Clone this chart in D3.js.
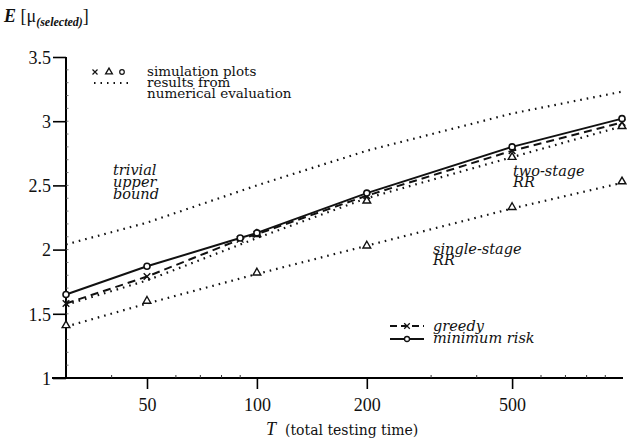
<!DOCTYPE html>
<html><head><meta charset="utf-8">
<script src="https://cdn.jsdelivr.net/npm/d3@7"></script>
<style>
body{margin:0;background:#fff;}
text{font-family:"DejaVu Serif","Liberation Serif",serif;fill:#111;}
.num{font-family:"Liberation Serif","DejaVu Serif",serif;}
</style></head>
<body><svg id="c" width="627" height="440"></svg>
<script>
// ---- data ----
const numT = [30, 50, 100, 200, 500, 1000];
const upperBound = [2.04, 2.21, 2.5, 2.77, 3.06, 3.23];
const twoStageNum = [1.57, 1.76, 2.09, 2.40, 2.72, 2.96];
const singleStageNum = [1.40, 1.58, 1.81, 2.03, 2.32, 2.52];

const singleSimT = [30, 50, 100, 200, 500, 1000];
const singleSim = [1.41, 1.60, 1.82, 2.03, 2.33, 2.53];
const twoSimT = [100, 200, 500, 1000];
const twoSim = [2.12, 2.38, 2.72, 2.96];

const greedyT = [30, 50, 90, 100, 200, 500, 1000];
const greedy = [1.58, 1.79, 2.08, 2.12, 2.42, 2.77, 2.99];
const minRiskT = [30, 50, 90, 100, 200, 500, 1000];
const minRisk = [1.65, 1.87, 2.09, 2.13, 2.44, 2.80, 3.02];

const xTicks = [50, 100, 200, 500];
const xMinor = [40, 60, 70, 80, 90, 300, 400, 600, 700, 800, 900];
const yTicks = [1, 1.5, 2, 2.5, 3, 3.5];

// ---- layout ----
const svg = d3.select("#c");
const x = d3.scaleLog().domain([30, 1000]).range([66, 622]);
const y = d3.scaleLinear().domain([1, 3.5]).range([378, 57]);

// axes
const yAxis = d3.axisLeft(y).tickValues(yTicks).tickSize(13).tickPadding(2)
  .tickFormat(d3.format(""));
const gy = svg.append("g").attr("transform", "translate(66,0)").call(yAxis);
gy.select(".domain").attr("stroke-width", 2).attr("d", `M0,${y(3.5)}V${y(1)}`);
gy.selectAll(".tick line").attr("stroke-width", 1.6);
gy.selectAll("text").attr("class", "num").style("font-size", "18px").attr("dy", "0.35em");

svg.append("g").selectAll("line").data(d3.range(1.1, 3.5, 0.1)).join("line")
  .attr("x1", 66).attr("x2", 68.5).attr("y1", d => y(d)).attr("y2", d => y(d))
  .attr("stroke", "#555").attr("stroke-width", 0.8);

const xAxis = d3.axisBottom(x).tickValues(xTicks).tickSize(11).tickPadding(9)
  .tickFormat(d3.format("d"));
const gx = svg.append("g").attr("transform", "translate(0,378)").call(xAxis);
gx.select(".domain").attr("stroke-width", 2).attr("d", "M52,0H623");
gx.selectAll(".tick line").attr("stroke-width", 1.6);
gx.selectAll("text").attr("class", "num").style("font-size", "18px");

svg.append("g").selectAll("line").data(xMinor).join("line")
  .attr("x1", d => x(d)).attr("x2", d => x(d)).attr("y1", 378).attr("y2", 375)
  .attr("stroke", "#333").attr("stroke-width", 1);

// lines
const line = (ts) => d3.line().x((d, i) => x(ts[i])).y(d => y(d));
const plot = svg.append("g");
function dotted(ts, vs) {
  plot.append("path").datum(vs).attr("d", line(ts)).attr("fill", "none")
    .attr("stroke", "#111").attr("stroke-width", 2.2)
    .attr("stroke-dasharray", "1.6,5");
}
dotted(numT, upperBound);
dotted(numT, twoStageNum);
dotted(numT, singleStageNum);

plot.append("path").datum(greedy).attr("d", line(greedyT)).attr("fill", "none")
  .attr("stroke", "#111").attr("stroke-width", 2).attr("stroke-dasharray", "8,5");
plot.append("path").datum(minRisk).attr("d", line(minRiskT)).attr("fill", "none")
  .attr("stroke", "#111").attr("stroke-width", 2);

// markers
const tri = d3.symbol().type(d3.symbolTriangle).size(26);
function triangles(ts, vs) {
  plot.append("g").selectAll("path").data(vs).join("path")
    .attr("d", tri).attr("transform", (d, i) => `translate(${x(ts[i])},${y(d)})`)
    .attr("fill", "#fff").attr("stroke", "#111").attr("stroke-width", 1.4);
}
triangles(singleSimT, singleSim);
triangles(twoSimT, twoSim);

function crosses(ts, vs) {
  plot.append("g").selectAll("path").data(vs).join("path")
    .attr("d", d3.symbol().type(d3.symbolX).size(30))
    .attr("transform", (d, i) => `translate(${x(ts[i])},${y(d)})`)
    .attr("fill", "none").attr("stroke", "#111").attr("stroke-width", 1.4);
}
crosses(greedyT, greedy);
function circles(ts, vs) {
  plot.append("g").selectAll("circle").data(vs).join("circle")
    .attr("cx", (d, i) => x(ts[i])).attr("cy", d => y(d)).attr("r", 3)
    .attr("fill", "#fff").attr("stroke", "#111").attr("stroke-width", 1.6);
}
circles(minRiskT, minRisk);

// y title
const yt = svg.append("text").attr("class", "num").attr("x", 4).attr("y", 22).style("font-size", "18px");
yt.append("tspan").text("E").style("font-style", "italic").style("font-weight", "bold");
yt.append("tspan").text(" [μ");
yt.append("tspan").text("(selected)").style("font-style", "italic").style("font-weight", "bold")
  .style("font-size", "12px").attr("dy", 4);
yt.append("tspan").text("]").attr("dy", -4);

// x title
const xt = svg.append("text").attr("x", 266).attr("y", 435).style("font-size", "14px");
xt.append("tspan").text("T").attr("class", "num").style("font-style", "italic").style("font-size", "18px");
xt.append("tspan").text("(total testing time)").attr("dx", 9);

// top-left legend
const lg = svg.append("g");
lg.append("path").attr("d", d3.symbol().type(d3.symbolX).size(18))
  .attr("transform", "translate(95,72)").attr("fill", "none").attr("stroke", "#111").attr("stroke-width", 1.2);
lg.append("path").attr("d", d3.symbol().type(d3.symbolTriangle).size(20))
  .attr("transform", "translate(109,72)").attr("fill", "#fff").attr("stroke", "#111").attr("stroke-width", 1.3);
lg.append("circle").attr("cx", 122).attr("cy", 72).attr("r", 2.3)
  .attr("fill", "#fff").attr("stroke", "#111").attr("stroke-width", 1.2);
lg.append("line").attr("x1", 94).attr("x2", 128).attr("y1", 83).attr("y2", 83)
  .attr("stroke", "#111").attr("stroke-width", 1.8).attr("stroke-dasharray", "1.5,5");
[["simulation plots", 76], ["results from", 87], ["numerical evaluation", 98]].forEach(([t, yy]) => {
  lg.append("text").attr("x", 147).attr("y", yy).text(t).style("font-size", "13.5px");
});

// curve labels
function italicLines(lines, x0, y0, dy) {
  lines.forEach((t, i) => svg.append("text").attr("x", x0).attr("y", y0 + i * dy)
    .text(t).style("font-style", "italic").style("font-size", "14.5px"));
}
italicLines(["trivial", "upper", "bound"], 113, 175, 12);
italicLines(["two-stage", "RR"], 513, 176, 11);
italicLines(["single-stage", "RR"], 433, 254, 11);

// bottom legend
const bl = svg.append("g");
bl.append("line").attr("x1", 390).attr("x2", 424).attr("y1", 326).attr("y2", 326)
  .attr("stroke", "#111").attr("stroke-width", 1.8).attr("stroke-dasharray", "7,4");
bl.append("path").attr("d", d3.symbol().type(d3.symbolX).size(22))
  .attr("transform", "translate(407,326)").attr("fill", "none").attr("stroke", "#111").attr("stroke-width", 1.3);
bl.append("line").attr("x1", 390).attr("x2", 424).attr("y1", 339).attr("y2", 339)
  .attr("stroke", "#111").attr("stroke-width", 1.8);
bl.append("circle").attr("cx", 407).attr("cy", 339).attr("r", 2.5)
  .attr("fill", "#fff").attr("stroke", "#111").attr("stroke-width", 1.3);
bl.append("text").attr("x", 433).attr("y", 331).text("greedy").style("font-style", "italic").style("font-size", "14.5px");
bl.append("text").attr("x", 433).attr("y", 343).text("minimum risk").style("font-style", "italic").style("font-size", "14.5px");
</script></body></html>
